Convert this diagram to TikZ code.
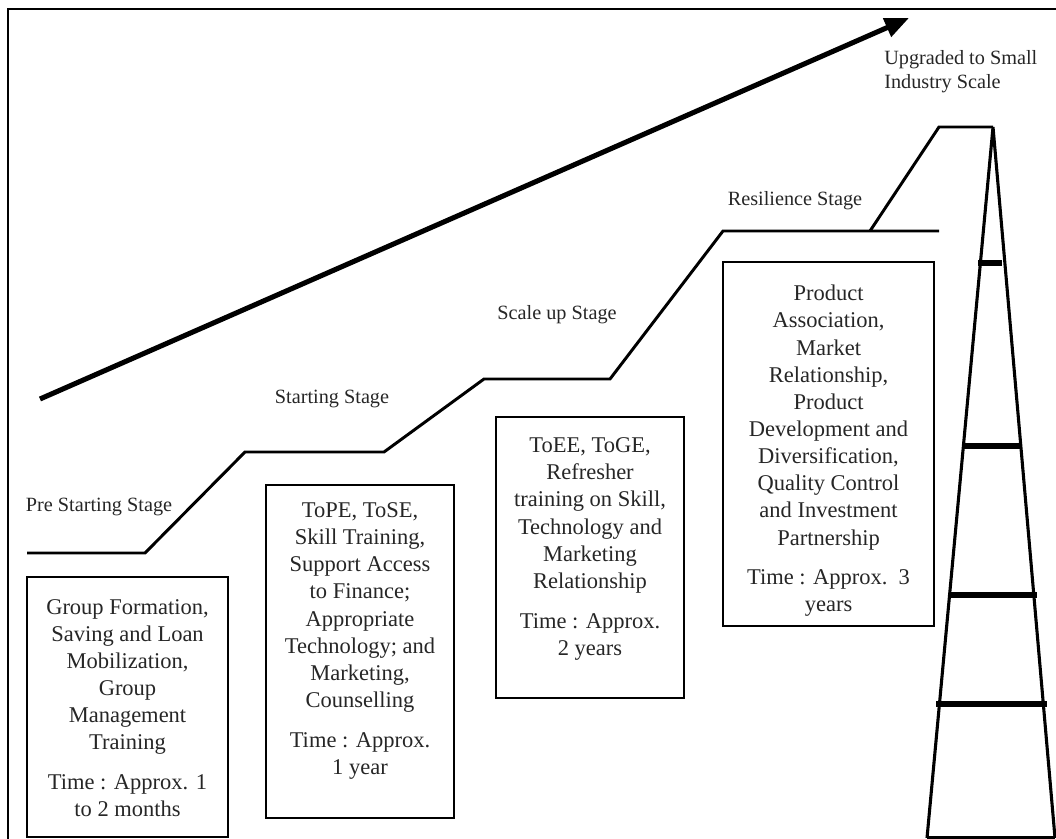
\documentclass[tikz,border=0pt]{standalone}
\usepackage{fontspec}
\setmainfont{Liberation Serif}
\usepackage{tikz}
\usetikzlibrary{arrows.meta,positioning,fit}
\tikzset{
  framerule/.style={line width=1.4pt},
  stairline/.style={line width=2.1pt},
  towerline/.style={line width=2.2pt},
  rungline/.style={line width=3.6pt},
  growtharrow/.style={-{Triangle[length=6mm,width=4.8mm]}, line width=3.6pt},
  stagebox/.style={draw, line width=1.1pt, inner sep=0pt},
  boxtext/.style={align=center, inner sep=0pt, text=black!85, font=\fontsize{16}{19.3}\selectfont},
  stagelabel/.style={inner sep=0pt, text=black!85, font=\fontsize{14.4}{17}\selectfont}
}

\begin{document}
\begin{tikzpicture}[x=0.025cm, y=-0.025cm]
\useasboundingbox (0,0) rectangle (1056,839);
\draw[framerule] (8,839) -- (8,9) -- (1056,9);
\coordinate (arrowstart) at (40,399);
\coordinate (arrowend) at (909,18);
\draw[growtharrow] (arrowstart) -- (arrowend);
% staircase of stages
\draw[stairline] (27,553) -- (145,553) -- (245,452) -- (384,452) -- (484,379) -- (610,379) -- (723,231) -- (939,231);
\draw[stairline] (870,231) -- (939,127) -- (993,127);
% ladder
\coordinate (apex) at (993,127);
\coordinate (footl) at (927,838);
\coordinate (footr) at (1055,838);
\draw[towerline] (footl) -- (apex) -- (footr);
\draw[towerline] (footl) -- (footr);
\draw[rungline] (978,263) -- (1002,263);
\draw[rungline] (964,446) -- (1021,446);
\draw[rungline] (949,595) -- (1037,595);
\draw[rungline] (936,704) -- (1047,704);
% stage labels
\node[stagelabel] (prestart) at (99,507) {Pre Starting Stage};
\node[stagelabel] (starting) at (332,399) {Starting Stage};
\node[stagelabel] (scaleup) at (557,315) {Scale up Stage};
\node[stagelabel] (resilience) at (795,201) {Resilience Stage};
\node[stagelabel, align=left, anchor=west] (upgraded) at (884,72) {Upgraded to Small\\Industry Scale};
% boxes
\node[stagebox, fit={(27,577) (228,837)}] (box1) {};
\node[stagebox, fit={(266,485) (454,818)}] (box2) {};
\node[stagebox, fit={(496,417) (684,698)}] (box3) {};
\node[stagebox, fit={(723,262) (934,626)}] (box4) {};
\node[boxtext] (text1) at (127.5,708) {Group Formation,\\Saving and Loan\\Mobilization,\\Group\\Management\\Training\\[9pt]Time : Approx. 1\\to 2 months};
\node[boxtext] (text2) at (360,641) {ToPE, ToSE,\\Skill Training,\\Support Access\\to Finance;\\Appropriate\\Technology; and\\Marketing,\\Counselling\\[9pt]Time : Approx.\\1 year};
\node[boxtext] (text3) at (590,549) {ToEE, ToGE,\\Refresher\\training on Skill,\\Technology and\\Marketing\\Relationship\\[9pt]Time : Approx.\\2 years};
\node[boxtext] (text4) at (828.5,451) {Product\\Association,\\Market\\Relationship,\\Product\\Development and\\Diversification,\\Quality Control\\and Investment\\Partnership\\[9pt]Time : Approx.\ \ 3\\years};
\end{tikzpicture}
\end{document}
